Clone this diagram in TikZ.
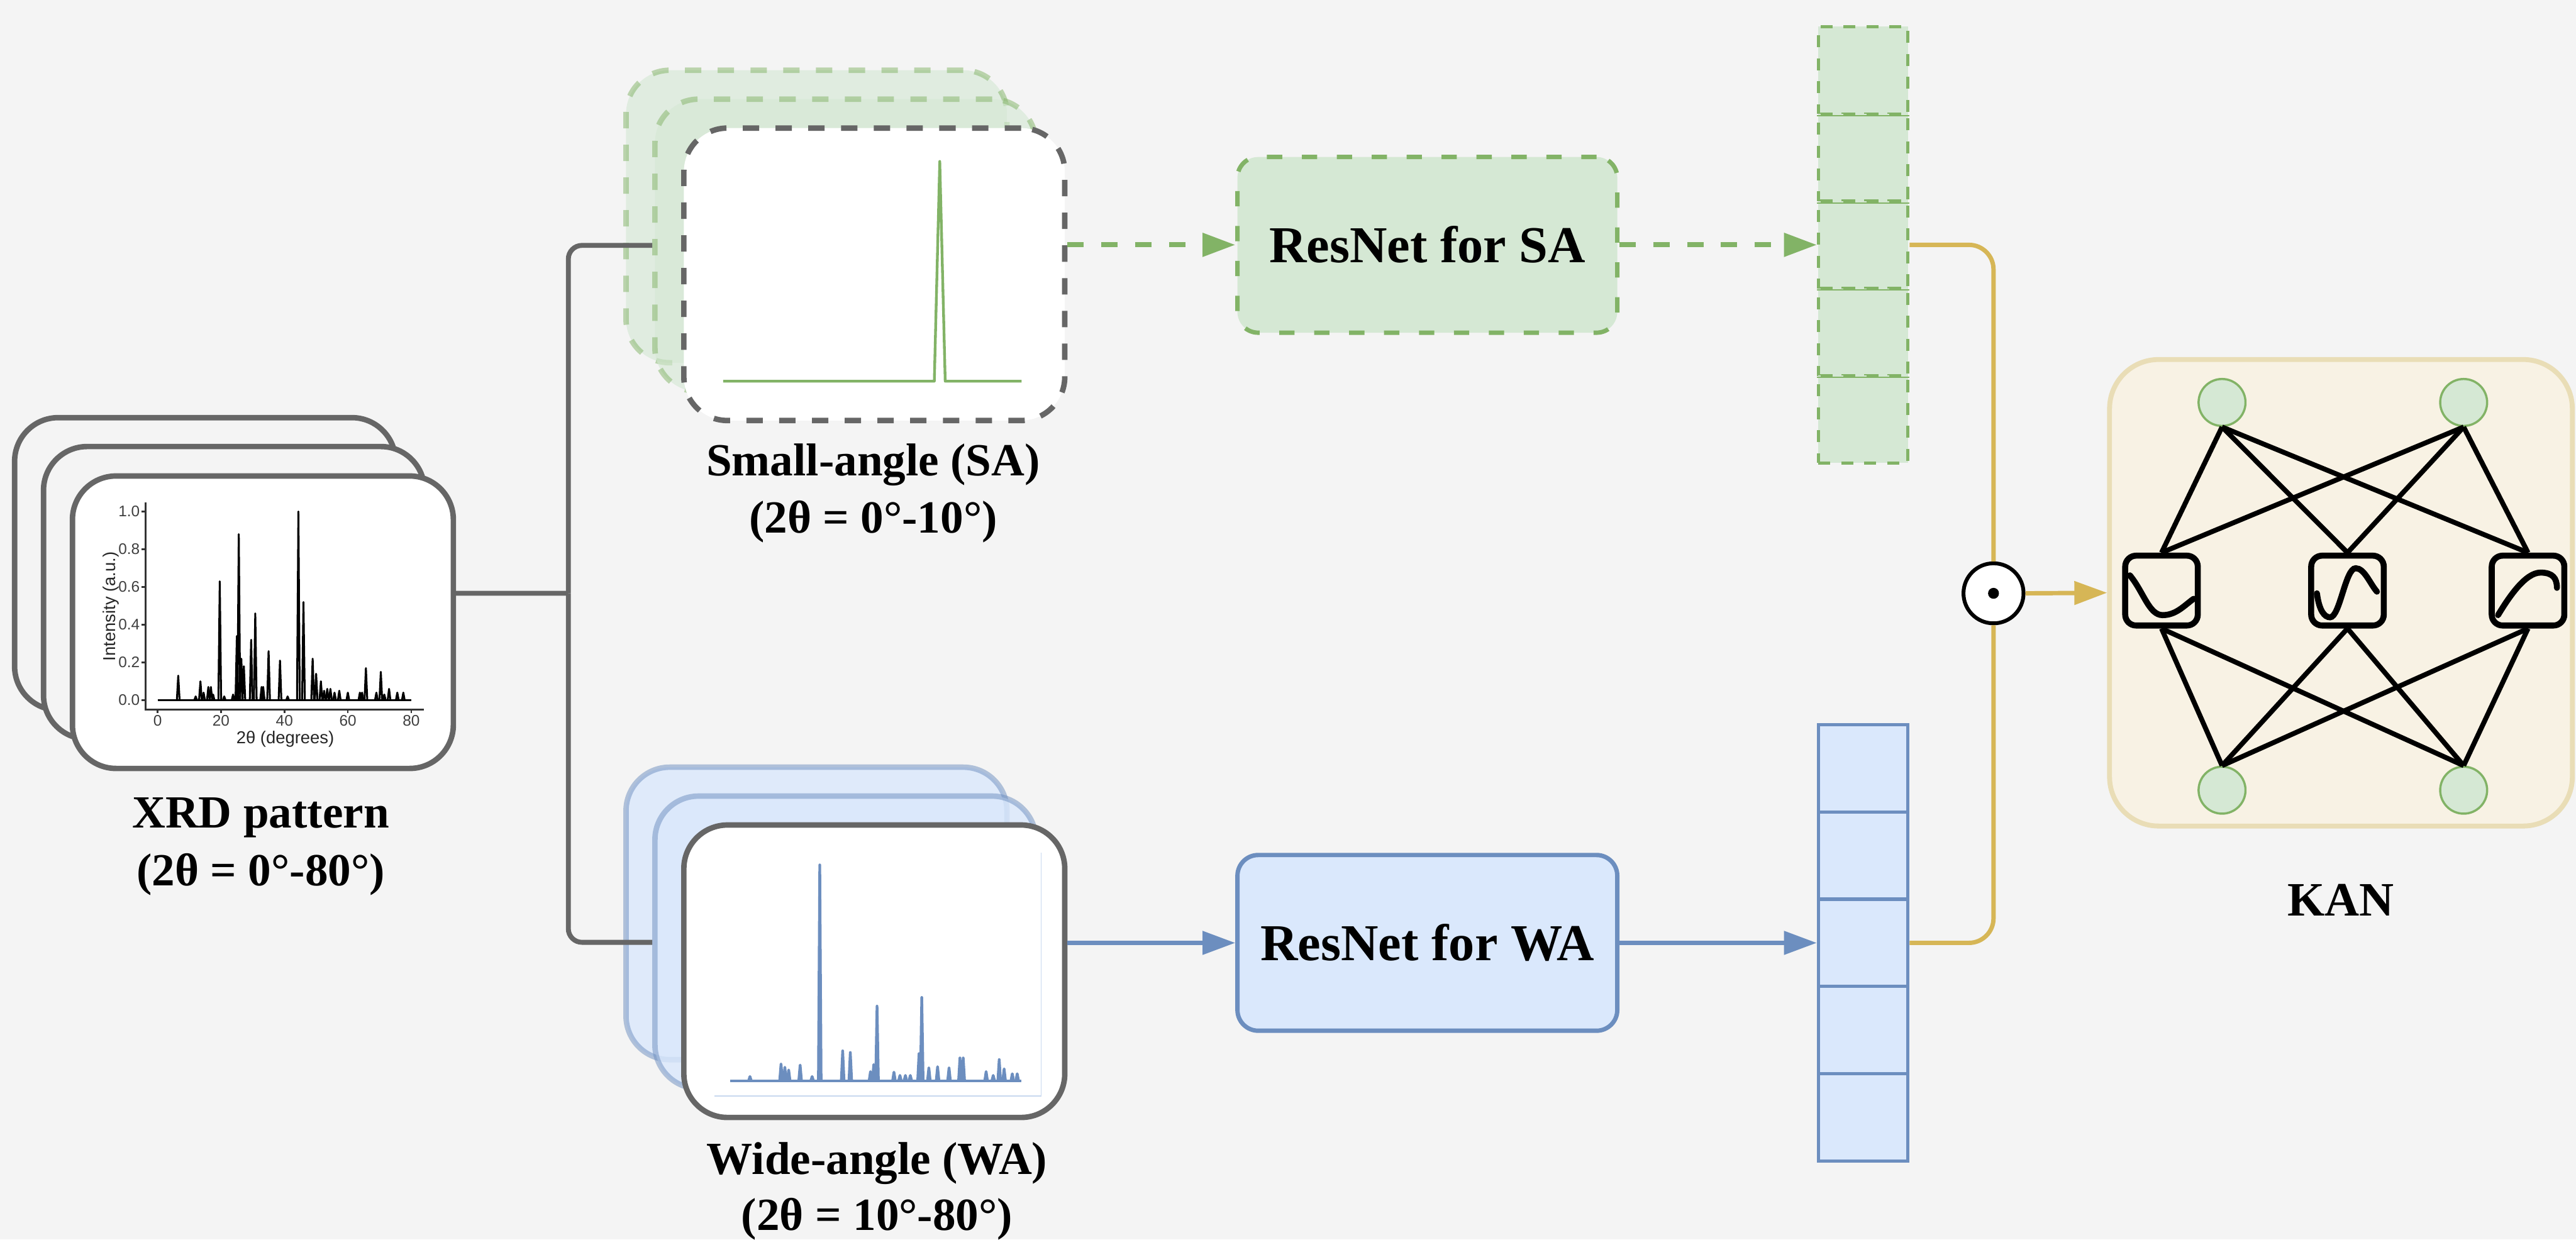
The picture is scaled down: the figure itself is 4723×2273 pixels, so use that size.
\documentclass[tikz,border=0pt]{standalone}
\usepackage{fontspec}
\setmainfont{Liberation Serif}
\newfontfamily\plotfont{Liberation Sans}
\usetikzlibrary{arrows.meta,calc}
\definecolor{bgc}{HTML}{F4F4F4}
\definecolor{graylc}{HTML}{666666}
\definecolor{gfill}{HTML}{D5E8D4}
\definecolor{gdraw}{HTML}{82B366}
\definecolor{bfill}{HTML}{DAE8FC}
\definecolor{bdraw}{HTML}{6C8EBF}
\definecolor{ydraw}{HTML}{D6B656}
\definecolor{kanfill}{HTML}{F8F2E4}
\definecolor{kandraw}{HTML}{E9DDB6}
\definecolor{faintb}{HTML}{C8D8EF}
\begin{document}
\begin{tikzpicture}[x=0.01cm,y=-0.01cm,
  lbl/.style={anchor=base,inner sep=0,font=\fontsize{24}{30}\selectfont\bfseries},
  card/.style={rectangle,rounded corners=0.8cm,minimum width=6.98cm,minimum height=5.36cm,line width=0.1cm,inner sep=0},
  xrdback/.style={card,draw=graylc,fill=bgc},
  xrdfront/.style={card,draw=graylc,fill=white},
  saback/.style={card,draw=gdraw,draw opacity=0.5,fill=gfill,fill opacity=0.62,dash pattern=on 0.3cm off 0.3cm},
  safront/.style={card,draw=graylc,fill=white,dash pattern=on 0.3cm off 0.3cm},
  waback/.style={card,draw=bdraw,draw opacity=0.5,fill=bfill,fill opacity=0.8},
  wafront/.style={card,draw=graylc,fill=white},
  resbox/.style={rectangle,rounded corners=0.38cm,minimum width=6.96cm,minimum height=3.22cm,line width=0.08cm,inner sep=0,font=\fontsize{27}{32}\selectfont\bfseries},
  gcell/.style={rectangle,minimum width=1.64cm,minimum height=1.6cm,inner sep=0,fill=gfill,draw=gdraw,line width=0.06cm,dash pattern=on 0.22cm off 0.2cm},
  bcell/.style={rectangle,minimum width=1.64cm,minimum height=1.6cm,inner sep=0,fill=bfill,draw=bdraw,line width=0.06cm},
  gline/.style={draw=graylc,line width=0.09cm,rounded corners=0.25cm},
  tipk/.style={-{Triangle[length=0.6cm,width=0.42cm]}},
  garrow/.style={draw=gdraw,line width=0.09cm,dash pattern=on 0.3cm off 0.32cm,tipk},
  barrow/.style={draw=bdraw,line width=0.08cm,tipk},
  yline/.style={draw=ydraw,line width=0.08cm,rounded corners=0.45cm},
  yarrow/.style={draw=ydraw,line width=0.08cm,tipk},
  plotax/.style={draw=black!80,line width=0.03cm},
  plotline/.style={draw=black,line width=0.035cm,line join=round},
  ticklbl/.style={inner sep=0,font=\plotfont\fontsize{8}{9}\selectfont,text=black!75},
  axt/.style={inner sep=0,font=\plotfont\fontsize{9}{10}\selectfont,text=black!85},
  kcirc/.style={circle,minimum size=0.86cm,inner sep=0,fill=gfill,draw=gdraw,line width=0.04cm},
  fbox/.style={rectangle,rounded corners=0.2cm,minimum width=1.33cm,minimum height=1.28cm,inner sep=0,draw=black,fill=kanfill,line width=0.11cm},
  kedge/.style={draw=black,line width=0.09cm},
  fcurve/.style={draw=black,line width=0.11cm,line cap=round}
]
\useasboundingbox (0,0) rectangle (4723,2273);
\fill[bgc] (0,0) rectangle (4723,2273);

% ---------------- XRD cards ----------------
\node[xrdback] (xrd1) at (376,1034) {};
\node[xrdback] (xrd2) at (429,1087) {};
\node[xrdfront] (xrd) at (482,1141) {};
% plot
\draw[plotax] (267,921) -- (267,1301) -- (777,1301);
\foreach \v/\t [count=\i] in {0/0.0,0.2/0.2,0.4/0.4,0.6/0.6,0.8/0.8,1/1.0}{
  \draw[plotax] (260,{1284-\v*346}) -- (267,{1284-\v*346});
  \node[ticklbl,anchor=east] (yt\i) at (257,{1284-\v*346}) {\t};
}
\foreach \d [count=\i] in {0,20,40,60,80}{
  \draw[plotax] ({289+\d*5.8125},1301) -- ({289+\d*5.8125},1308);
  \node[ticklbl,anchor=north] (xt\i) at ({289+\d*5.8125},1311) {\d};
}
\node[axt] (xtitle) at (523,1355) {2θ (degrees)};
\node[axt,rotate=90] (ytitle) at (203,1112) {Intensity (a.u.)};
\draw[plotline] (289,1284) -- (754,1284);
\foreach \d/\h in {6.5/0.13,12/0.02,13.5/0.1,14.5/0.04,16/0.07,16.8/0.07,17.5/0.03,19.6/0.63,21/0.02,23.8/0.03,25/0.34,25.6/0.88,26.4/0.22,27.2/0.18,29.5/0.32,30.8/0.46,32.8/0.07,33.3/0.07,35/0.26,38.6/0.21,41/0.02,44.4/1.0,46/0.52,48.9/0.22,50/0.14,51.5/0.1,52.5/0.05,53.5/0.06,54.5/0.06,55.8/0.04,57.3/0.05,60/0.04,63.8/0.04,64.5/0.04,65.7/0.17,69/0.04,70.4/0.15,71.5/0.03,73/0.06,75.6/0.04,77.5/0.04}{
  \draw[plotline] ({289+\d*5.8125-2.5},1284) -- ({289+\d*5.8125},{1284-\h*346}) -- ({289+\d*5.8125+2.5},1284);
}
\node[lbl] (xrdl1) at (478,1518) {XRD pattern};
\node[lbl] (xrdl2) at (478,1624) {(2θ = 0°-80°)};

% ---------------- SA cards ----------------
\node[saback] (saback) at (1497,397) {};
\node[saback] (samid) at (1550,450) {};
\node[safront] (safr) at (1603,503) {};
\draw[draw=gdraw,line width=0.05cm,line join=round] (1326,699) -- (1713,699) -- (1723,296) -- (1733,699) -- (1873,699);
\node[lbl] (sal1) at (1601,872) {Small-angle (SA)};
\node[lbl] (sal2) at (1601,977) {(2θ = 0°-10°)};

% ---------------- WA cards ----------------
\node[waback] (waback) at (1497,1675) {};
\node[waback] (wamid) at (1550,1728) {};
\node[wafront] (wafr) at (1603,1781) {};
\draw[draw=faintb,line width=0.02cm] (1310,2010) -- (1909,2010) -- (1909,1563);
\draw[draw=bdraw,line width=0.05cm,line join=round] (1339,1982) -- (1873,1982);
\foreach \x/\h in {1375/8,1432/31,1439/25,1446/20,1467/29,1489/8,1503/396,1545/55,1559/52,1596/17,1602/30,1608/137,1639/16,1650/10,1660/10,1669/10,1685/50,1690/153,1703/24,1719/26,1740/24,1760/42,1766/42,1808/17,1821/10,1832/39,1841/22,1856/13,1865/13}{
  \draw[draw=bdraw,line width=0.05cm,line join=round] ({\x-2.5},1982) -- (\x,{1982-\h}) -- ({\x+2.5},1982);
}
\node[lbl] (wal1) at (1608,2153) {Wide-angle (WA)};
\node[lbl] (wal2) at (1608,2256) {(2θ = 10°-80°)};

% ---------------- trunk ----------------
\coordinate (split) at (1042,1088);
\draw[gline] ([yshift=0.53cm]xrd.east) -- (split);
\draw[gline] (split) |- (samid.west);
\draw[gline] (split) |- (wamid.west);

% ---------------- ResNets ----------------
\node[resbox,fill=gfill,draw=gdraw,dash pattern=on 0.28cm off 0.36cm] (resSA) at (2617,449) {ResNet for SA};
\node[resbox,fill=bfill,draw=bdraw] (resWA) at (2617,1729) {ResNet for WA};
\draw[garrow] (safr.east |- resSA.west) -- (resSA.west);
\draw[barrow] (wafr.east |- resWA.west) -- (resWA.west);

% ---------------- vectors ----------------
\foreach \i/\y in {1/129,2/289,3/449,4/609,5/769}{
  \node[gcell] (sav\i) at (3416,\y) {};
}
\foreach \i in {1,2,3,4}{
  \draw[draw=gdraw,line width=0.025cm] (sav\i.south west) -- (sav\i.south east);
}
\foreach \i/\y in {1/1409,2/1569,3/1729,4/1889,5/2049}{
  \node[bcell] (wav\i) at (3416,\y) {};
}
\draw[garrow] (resSA.east) -- (sav3.west);
\draw[barrow] (resWA.east) -- (wav3.west);

% ---------------- fusion ----------------
\node[circle,minimum size=1.1cm,inner sep=0,fill=white,draw=black,line width=0.07cm] (mul) at (3655,1088) {};
\fill[black] (mul.center) circle (0.1cm);
\draw[yline] (sav3.east) -| (mul.north);
\draw[yline] (wav3.east) -| (mul.south);

% ---------------- KAN ----------------
\node[rectangle,rounded corners=0.9cm,minimum width=8.48cm,minimum height=8.55cm,inner sep=0,fill=kanfill,draw=kandraw,line width=0.09cm] (kan) at (4292,1087) {};
\draw[yarrow] (mul.east) -- (kan.west);
\node[kcirc] (c1) at (4074,738) {};
\node[kcirc] (c2) at (4517,738) {};
\node[kcirc] (c3) at (4074,1449) {};
\node[kcirc] (c4) at (4517,1449) {};
\node[fbox] (f1) at (3963,1083) {};
\node[fbox] (f2) at (4304,1083) {};
\node[fbox] (f3) at (4635,1083) {};
\foreach \c in {c1,c2}{\foreach \f in {f1,f2,f3}{\draw[kedge] (\c.south) -- (\f.north);}}
\foreach \c in {c3,c4}{\foreach \f in {f1,f2,f3}{\draw[kedge] (\f.south) -- (\c.north);}}
\draw[fcurve] (3905,1055) .. controls (3930,1085) and (3940,1128) .. (3965,1128) .. controls (3990,1128) and (4005,1110) .. (4022,1098);
\draw[fcurve] (4248,1088) .. controls (4252,1120) and (4262,1132) .. (4272,1132) .. controls (4290,1132) and (4300,1042) .. (4319,1042) .. controls (4335,1042) and (4345,1070) .. (4358,1085);
\draw[fcurve] (4580,1128) .. controls (4600,1095) and (4630,1050) .. (4658,1050) .. controls (4680,1050) and (4688,1060) .. (4688,1078);
\node[lbl,font=\fontsize{25}{30}\selectfont\bfseries] (kanl) at (4292,1680) {KAN};
\end{tikzpicture}
\end{document}
